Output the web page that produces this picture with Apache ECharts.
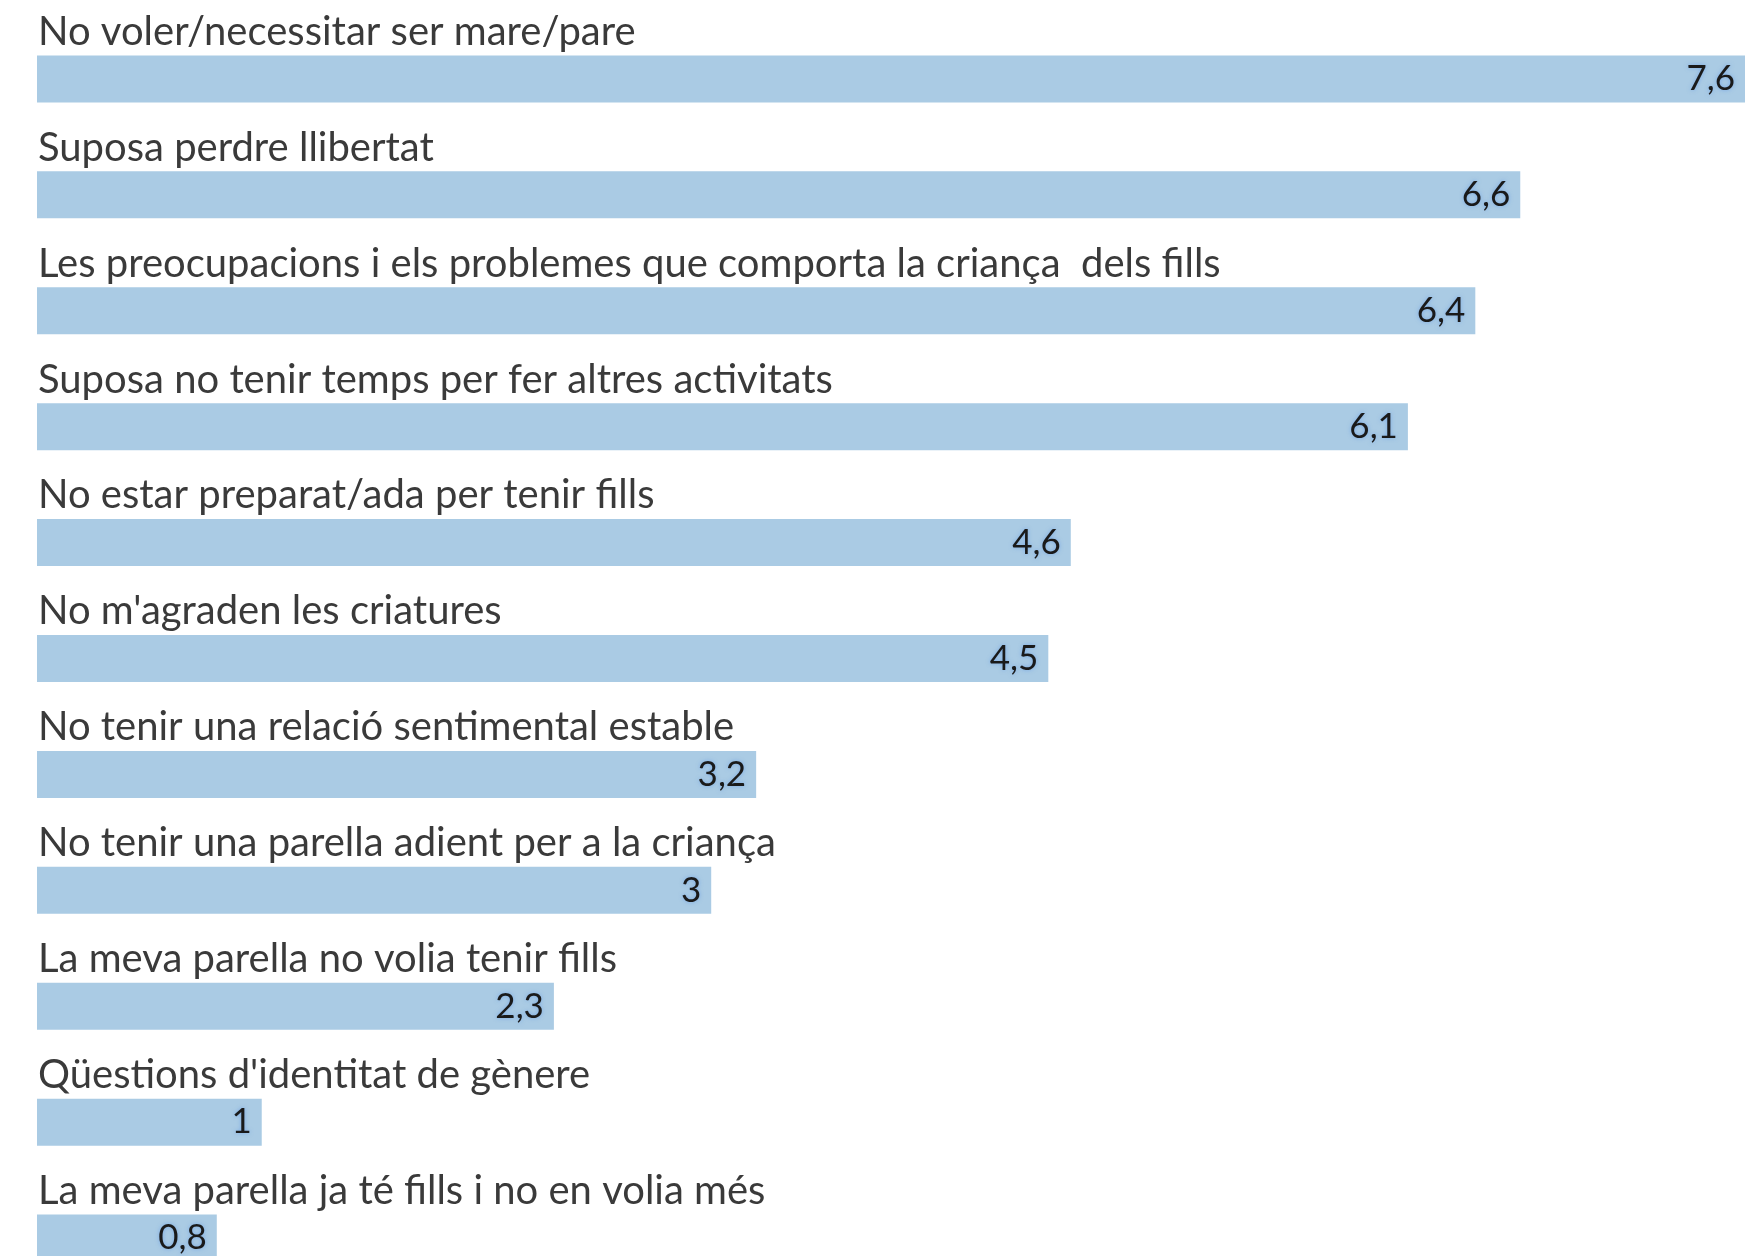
<!DOCTYPE html>
<html>
<head>
<meta charset="utf-8">
<script src="https://cdn.jsdelivr.net/npm/echarts@6/dist/echarts.min.js"></script>
<style>
  html, body { margin: 0; padding: 0; background: #ffffff; overflow: hidden; }
  #chart { width: 1745px; height: 1320px; }
</style>
</head>
<body>
<div id="chart"></div>
<script>
var categories = [
  "No voler/necessitar ser mare/pare",
  "Suposa perdre llibertat",
  "Les preocupacions i els problemes que comporta la criança  dels fills",
  "Suposa no tenir temps per fer altres activitats",
  "No estar preparat/ada per tenir fills",
  "No m'agraden les criatures",
  "No tenir una relació sentimental estable",
  "No tenir una parella adient per a la criança",
  "La meva parella no volia tenir fills",
  "Qüestions d'identitat de gènere",
  "La meva parella ja té fills i no en volia més"
];
var values = [7.6, 6.6, 6.4, 6.1, 4.6, 4.5, 3.2, 3, 2.3, 1, 0.8];

var chart = echarts.init(document.getElementById('chart'), null, { renderer: 'canvas' });
chart.setOption({
  animation: false,
  backgroundColor: '#ffffff',
  grid: { left: 37, top: 21, width: 1708, height: 1275, containLabel: false },
  xAxis: {
    type: 'value', min: 0, max: 7.6, show: false
  },
  yAxis: {
    type: 'category', data: categories, inverse: true,
    axisLine: { show: false }, axisTick: { show: false }, splitLine: { show: false },
    axisLabel: {
      inside: true, margin: 1, align: 'left', verticalAlign: 'bottom',
      padding: [0, 0, 27, 0],
      color: '#3a3a3a', fontSize: 40, fontFamily: 'Lato, "Noto Sans", sans-serif'
    }
  },
  series: [{
    type: 'bar', data: values, barWidth: 47,
    itemStyle: { color: '#aacbe4' },
    label: {
      show: true, position: 'insideRight', distance: 10,
      color: '#1a1a1a', fontSize: 35, fontFamily: 'Lato, "Noto Sans", sans-serif',
      textShadowColor: 'rgba(80,140,230,0.55)', textShadowBlur: 4,
      formatter: function (p) { return String(p.value).replace('.', ','); }
    }
  }]
});
</script>
</body>
</html>
